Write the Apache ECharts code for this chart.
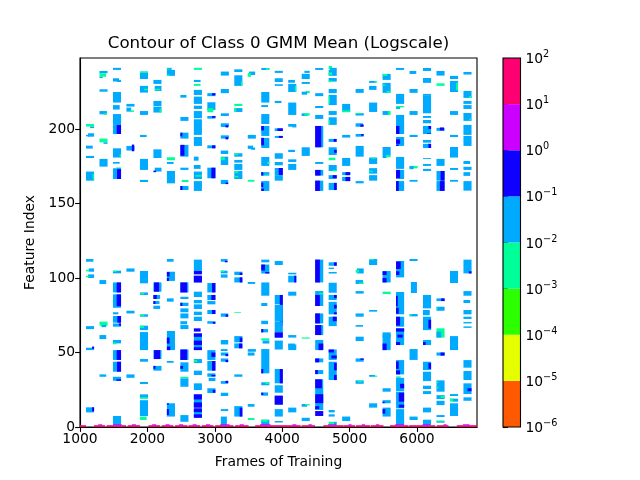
<!DOCTYPE html>
<html><head><meta charset="utf-8">
<script src="https://cdn.jsdelivr.net/npm/echarts@6/dist/echarts.min.js"></script>
<style>html,body{margin:0;padding:0;background:#fff}#c{width:640px;height:480px}</style>
</head><body><div id="c"></div>
<script>
const C=0.03,B=0.3,G=0.003;
const levelEdges=[1e-6,1e-5,1e-4,1e-3,1e-2,1e-1,1,10,100];
const levelColors=['#ff5a00','#e6ff00','#2bff00','#00ff99','#00aaff','#1000ff','#cc00ff','#ff0073'];
const xTicks=[1000,2000,3000,4000,5000,6000];
const yTicks=[0,50,100,150,200];
const columnStart=[1089,1289,1489,1689,1889,2089,2289,2489,2689,2889,3089,3289,3489,3689,3889,4089,4289,4489,4689,4889,5089,5289,5489,5689,5889,6089,6289,6489,6689];
const col00=[[203.3,201.6,G],[201.6,200.6,C,60,120],[197.1,194.8,C,30,120],[196,195,C,0,60],[188.8,186.8,C,0,100],[181.9,180.5,C,0,120],[171.4,165.3,C,0,120],[170,166,G,100,120],[112.7,110.9,C,0,110],[106.4,104.2,C,40,120],[105.5,104.5,G,0,50],[102.4,100,C,30,120],[101.5,100.5,G,0,50],[67.7,65.7,C,0,120],[53.2,51.6,C,0,120],[54,52.5,B,90,120],[13.2,9.8,C,0,120],[13.2,10.5,B,90,120]];
const col01=[[238.9,237.4,C],[237.4,235,G,0,100],[235,234.2,C,0,50],[226.6,225,C],[212,209.8,C,0,110],[210.5,209.5,G,60,110],[193.5,191,G],[191,190,C,60,120],[179.9,174.7,C],[98.6,95.9,C,0,100],[70.7,68,G],[68.5,67,C,30,100],[61.7,59,C,0,100],[35.3,33.7,C,0,100]];
const col02=[[241,239.6,C],[234,231.8,C,0,90],[232.8,231.5,C,60,120],[224.8,217.7,C],[216,213,C,0,100],[210,202.7,C],[202.7,196.6,C],[202.7,196.6,B,55,120],[187,180.8,C],[183,181,G,100,120],[177.8,176.7,C,0,100],[174.2,173,G,50,120],[173.6,166.4,C],[173,166.4,B,60,120],[104.9,103.1,C],[104.9,104,G,0,50],[97,90.3,C],[97,90.3,B,55,120],[89,80,C],[89,81,B,55,120],[77,75.6,C,0,80],[74.5,70,C],[74.5,70,B,65,120],[69.5,67.3,C,0,120],[69.5,68,B,90,120],[58.4,56.1,C],[56.8,55.5,G,0,50],[51.6,45,C],[51.6,45,B,55,120],[43.8,37.1,C],[43.8,37.1,B,60,120],[33.7,31,C],[32,31,B,50,120],[7.4,1.3,C]];
const col03=[[216.8,215,C],[214.3,211.6,C,0,70],[212.5,211.4,G,50,110],[188.6,185.5,C],[189.5,185,B,80,115],[106.4,104.2,C],[78,76.2,C],[35.3,33,C]];
const col04=[[238.5,233.5,C],[238.5,237.5,G],[228.9,224.4,C],[227,226,G,60,120],[212,209.4,C],[196,194.6,C,0,100],[179.9,172.5,C],[165.8,164.4,C,0,120],[104.7,96.4,C],[90.3,88.6,C],[90,89,G,0,60],[75.6,74,C,0,120],[75.6,74.5,G,0,60],[68,65,C],[68,66.5,G,0,60],[63.7,51.6,C],[45.6,43.8,C],[30.2,28.8,C],[21.9,19.2,C],[20,19,G],[18,7.4,C],[7,4.7,G,0,100]];
const col05=[[232.9,230.2,C],[228.9,225.5,C,20,120],[227,226,G,20,100],[218.8,215.4,C],[215,211,C],[213.5,211,G,90,120],[186.3,180.5,C],[174,171.4,C,20,120],[172,171,B,0,40],[97,90.8,C],[97,90.8,B,10,85],[88.6,85.9,C,0,100],[88.6,85.9,B,0,50],[84.5,82.5,C,0,90],[84.5,82.5,B,0,30],[81.4,79.2,C,0,100],[51.6,45.6,C],[51.6,45.6,B,10,100],[41,37.8,C,0,120],[41,39,B,0,30]];
const col06=[[241,239.6,C,0,70],[240.5,239.8,G,0,40],[239.6,235.6,C],[236.5,235.5,G,0,40],[181,179,G],[177.8,176.5,C,0,100],[171.8,163.5,C],[112.7,110.9,C,0,100],[104.2,98,C],[104,101,B,0,40],[100,98,B,0,30],[86.3,84.1,C,0,100],[64.4,51.6,C],[60,56,B,0,40],[54,51.6,B,0,50],[44.3,43.1,C,0,100],[15.9,7,C],[15.9,15,B,0,30],[12,8,B,0,30]];
const col07=[[222.8,221,C,0,90],[208,205.4,C,0,120],[197.5,193.5,C],[197.5,195,B,0,30],[189.3,181.4,C],[189.3,182,B,0,60],[174,172.5,C,0,120],[165.8,164.4,G,20,120],[161.7,159,C],[161.7,159,B,0,30],[97,90.3,C],[97,90.3,B,0,100],[87.4,85.9,C,0,120],[83.4,81.2,C],[83.4,81.2,B,0,30],[79.6,77,C],[76.2,72.9,C],[71,68.9,C,0,100],[68.4,65.7,C],[52,45,C],[52,45,B,0,100],[43.4,37.1,C],[41,39,B,0,40],[33.7,32.6,G],[32.6,27,C],[8,3.5,C]];
const col08=[[241,239.6,G],[232.9,231.5,C,0,100],[230.2,228.9,G,0,100],[226.2,222.8,C],[221.7,216.8,C],[215.6,213.4,C],[212,207.2,C],[206.5,196,C],[194.6,188.6,C],[181.4,178.7,C,0,70],[175.8,173.2,C,0,100],[171.4,166.4,C],[169,168,G,20,120],[165,158.4,C],[112.3,104.7,C],[104.7,102.4,B],[101.5,97,C],[101.5,97,B,0,120],[90.8,87.2,C],[85.2,83,C],[82.3,79.2,C],[77.4,75.1,C],[74,71.1,C],[66.2,64,B,0,100],[62.8,51.6,C],[62.8,60.5,B],[58,55,B],[53.5,51.6,B],[45.6,42.9,C],[45,43.5,G,0,50],[37.8,34.9,C],[29.3,24.8,C],[21.9,13,C],[21.9,18.5,B],[16.5,13,B],[12.5,6.2,C],[12.5,10,B],[8.5,6.2,B]];
const col09=[[224,222,C],[224,222.5,B,70,120],[217.9,212.7,C],[213.9,211.2,G,0,90],[208.7,206.9,C],[208.7,207.5,B,70,120],[189,187,C],[189,187,B,70,120],[174,166.9,C],[174,166.9,B,60,120],[96.6,90.3,C],[96.6,90.3,B,70,120],[88.6,85.2,C],[88.6,85.2,B,60,120],[84.5,82.3,C],[78.5,75.8,C],[78.5,75.8,B,70,120],[71,69.3,C],[70.5,69.3,B,80,120],[51.6,45,C],[50,47,B,60,120],[44.3,37.8,C],[44.3,37.8,B,70,120],[36,33.7,C],[35,34,B,60,120],[33,30.8,C,20,120],[26,22.8,C],[25,23,B,80,120]];
const col10=[[238.5,235.8,C],[226.8,224,C],[210.5,208.7,C],[203.8,201.3,C],[202.5,201,B,70,110],[195.7,193.5,C],[194.5,193,B,70,110],[185.5,183.2,C,0,110],[181.4,175.8,C,0,110],[181,179,G,0,60],[165.8,163,C,0,110],[164,163,B,70,110],[112.7,110.9,C,0,100],[111.5,110.5,B,60,100],[104.9,103.1,C,0,100],[105,104,G,0,50],[102.4,100.2,C,0,100],[76.2,74,C,0,110],[75.5,74,B,70,110],[58.4,55.4,C,0,110],[52.3,51,C,0,100],[50,47.9,C,0,110],[49,47.5,B,70,110],[46,43.8,C,0,110],[45,43.5,B,70,110],[30.8,29,C,0,110],[31,29.5,B,70,110],[23,20.8,C,0,110],[12,10.7,C,0,110],[7,1.3,C,0,90]];
const col11=[[240,238.2,C,0,120],[236,228.9,C],[232,229,G,100,120],[216.8,215.4,G,0,120],[214,211.4,C],[214,211.4,G,0,30],[183.7,181.4,C],[183.7,182.5,G,0,60],[179.2,177.4,C],[176.5,172.5,C],[171.8,166.4,C],[171.8,170.5,G,0,60],[168.5,167.5,G,0,60],[104.2,102,C],[103.5,102,B,80,120],[100.4,97,C],[100.4,97,B,80,120],[77,76.5,G,0,100],[61,56.8,C],[60,57,B,80,120],[56.1,52.8,C],[56,52.8,B,70,120],[35.3,33.7,C,0,120],[14,7,C],[13,7,B,80,120]];
const col12=[[238.5,236.2,C,20,110],[237.5,235,G,0,50],[196,193.5,C],[188.8,186.6,C,0,80],[187.5,186,C,50,110],[165.8,164.6,G,0,100],[97.3,96,C,0,110],[52.3,50.5,C],[50,47.9,C,0,100],[15.4,13.6,C,0,100],[6,4.7,G,0,100]];
const col13=[[240.9,239.6,C],[240.9,239.6,G,70,120],[224.8,217.7,C],[216,214.7,C,0,100],[210,203.3,C],[202,195.3,C],[202,199,B,0,40],[194,187.2,C],[194,189,B,0,40],[181.2,175.2,C],[178,176.5,G,90,120],[171,168.7,C],[171,168.7,B,0,30],[169.5,168.7,G,50,110],[165,158.4,C],[164,161,B,0,30],[160,158.4,B,0,40],[112.3,110.5,C],[109,103,C],[109,105,B,0,55],[104,103,B,60,120],[97,88.1,C],[83.2,81.2,C,0,90],[71.3,69,C,0,100],[65.7,63.5,C,0,100],[65.7,63.5,B,0,30],[59.5,58.1,G],[58,56,C,20,120],[52.3,38.9,C],[38.9,36,C],[38.9,36,B,0,30],[30,28,C],[30,28.8,G,60,120],[23.2,21,C,0,100],[23,21.5,B,0,30],[4.9,1.3,C],[4.9,3.5,G,0,100]];
const col14=[[239,237.6,C],[234,231.5,C],[230,228.9,C],[218.8,217.4,C,0,100],[200.4,198.6,C],[200.4,198.6,B,40,120],[195.3,194,C],[195.3,194,B,60,120],[183.7,180,C],[177.8,175.6,C],[173.8,169,C],[173.8,169,B,60,120],[169,165.3,C],[111.4,108.7,C],[88.6,82.3,C],[88.6,68,B,75,120],[81.9,70.7,C],[70.7,63.5,C],[63.5,60,C],[63.5,60,B],[58,52,C],[38.9,29.3,C],[38.9,29.3,B,75,120],[28,23,C],[21,15,C],[21,15,B,0,120],[12,7,C],[4,3,C]];
const col15=[[232.9,231,C,0,100],[230.2,224.8,C],[229,225,G,100,120],[217.7,209.4,C],[203.3,201.5,C],[202,201,C,60,120],[186,184.5,C,0,100],[179.6,177.8,C],[176.5,172.5,C],[103.5,102.4,C],[101.5,97,C],[101.5,97,B,90,120],[90.8,88.1,C],[61.7,60,C],[55.4,51.6,C],[56,54,C,0,100],[13,9.8,C]];
const col16=[[239,237.6,C,40,120],[237,233.5,C],[231.5,230.2,C],[225.5,224,G,60,120],[225,223,C,0,80],[210.5,208.7,C,0,90],[210.5,209,G,40,120],[187.7,181.9,C],[60.1,59.3,G],[15.4,13.6,C,0,80],[15.4,14.5,G,50,120],[6.2,4,C]];
const col17=[[240.9,239.6,C],[224,222,C],[215.4,214,C],[209.4,206.7,C],[202,187.7,C],[202,187.7,B,0,90],[177.8,176.5,C],[172.5,168.7,C],[172.5,168.7,B,0,80],[165.3,158.4,C],[165.3,158.4,B,0,70],[112.3,97,C],[112.3,97,B,0,70],[91.2,88.6,C],[90,89,G,60,120],[88.6,81.2,C],[88.6,81.2,B,0,70],[76.2,69.5,C],[76.2,69.5,B,0,70],[68.4,61.7,C],[68.4,61.7,B,0,90],[58.4,51.6,C],[56,51.6,B,50,120],[46,43.4,C],[46,43.4,B,0,60],[38.2,35.5,C],[38.2,35.5,B,0,40],[32,11.4,C],[32,26,B,0,100],[22,16,B,0,120],[14,12,B,0,60],[10.7,7.4,B,0,120]];
const col18=[[242.3,240,G,0,50],[241,239.6,C,20,120],[239.6,235.6,C],[238,236,G,0,50],[234.2,231.8,C],[232.5,231.5,G,0,60],[226.8,224,C],[222.8,216,C],[222,217,G,0,20],[212,209.4,C],[207.8,202.7,C],[206,203,G,0,20],[193.3,191.3,C,0,80],[193.3,191.3,B,75,120],[187.7,182.5,C],[186,184,B,80,120],[180.7,179,G,0,100],[175.8,171.8,C],[172.5,171.5,G,60,120],[169,166.4,C,0,120],[169,167,B,60,120],[163.8,159,C],[163.8,159,B,80,120],[110.5,108.2,C],[110.5,108.2,B,80,120],[106.9,106,C,0,80],[104,103,C],[96.8,90.1,C],[88.6,85.2,C],[88.6,86.5,B,80,120],[84,75.6,C],[82,79.5,B,80,120],[77,75.6,B,80,120],[74,67.7,C],[74,71,B,60,120],[52,45,C],[52,50,B,0,80],[48,46,B,40,120],[43.8,31.5,C],[43,38,B,80,120],[35,31.5,B,80,120],[11.4,9.8,C,0,90],[8.5,7,C,0,90],[3.5,1.3,G,0,80],[3.5,1.3,C,80,120]];
const col19=[[216.8,211.4,C],[212.5,211.2,G],[196,194.2,C,0,120],[180.5,175.2,C],[171,169,C],[171,169,B,50,120],[167.8,165,C],[167.8,165,B,50,120],[7,4,C]];
const col20=[[226.8,224.2,C],[210.7,209,C],[210.7,210,G,0,100],[203.8,201.5,C,0,110],[203,201.5,B,70,120],[196.6,194.8,C],[196.6,195.5,B,80,120],[188.6,181.4,C],[165,163.5,C],[106.4,103,C,20,120],[105.5,103.5,G,0,50],[98.6,96,C,0,110],[97,96,G,50,120],[91.2,89.5,C],[76.2,74,C],[68.4,67.3,C,0,110],[60.6,57.7,C],[46,43.8,C],[46,45,B,70,120],[31.3,29,C],[31,30,G,30,100]];
const col21=[[232.2,230.9,C,0,100],[232,231,G,80,120],[228.9,226.2,C,0,110],[217.7,211.4,C],[180.8,176.5,C],[180.8,180,G,30,100],[173.7,170,C],[172,171,G,0,50],[169,165.3,C],[112.7,108.7,C],[112.7,112,G,0,70],[78.5,77.4,C],[34.9,33.7,C,0,90],[34.5,33.7,G,70,120],[15.9,13,C]];
const col22=[[236.9,232.9,C],[236.9,235.5,G,0,70],[230.9,224.2,C],[230,229,G,0,40],[225.5,224.2,G,60,120],[212,209.4,C,0,100],[212,209.4,G,80,120],[187.9,182.5,C],[182.5,180.5,C,0,60],[182.5,181,G,50,120],[104.7,97,C],[104.5,102,B,0,60],[100,97,B,0,60],[90.8,89.2,G],[63.5,51.6,C],[62,60,C],[56,51.6,B,0,60],[26,23.7,C],[18,15.9,C],[17,16,B,0,30],[13,7,C],[12,9,B,0,40]];
const col23=[[240.9,239.6,C],[223.5,216.8,C],[215.4,213.4,C,0,60],[215.4,214.5,G,0,120],[209.4,196.6,C],[202,196.6,B,0,50],[194.6,188.6,C],[193,190,B,0,60],[189.5,188.6,B,0,40],[181.2,173.2,C],[172.5,166.4,C],[172.5,167,B,0,60],[165,158.4,C],[165,158.4,B,0,40],[111.4,100.4,C],[111,106,B,0,70],[104.5,102,B,0,50],[90.6,75.6,C],[88,81,B,0,25],[80,76,B,0,40],[74,67.3,C],[74,68,B,0,60],[66.2,55,C],[66.2,64,B],[62,60,B,20,100],[57,55,B,0,60],[44.9,35.3,C],[44,39,B,0,40],[38,35.3,B,0,60],[34,33,G,0,70],[33,24.1,C],[29,26,B,60,120],[23.7,12.5,C],[23,17,B,40,120],[15,13,B,40,120],[12,1.3,C]];
const col24=[[238.9,236.9,C,0,100],[226.8,224.2,C],[212,209.4,C],[196,194.6,C],[175.2,173.6,G,0,120],[175,173,C,0,60],[165.8,164.6,C],[112.7,111.4,C],[97.3,89.9,C,20,110],[75.8,74.2,C],[75.8,74.5,G,0,30],[52.3,45,C],[7,4.7,C]];
const col25=[[240.9,238.9,C],[234.2,230.9,C],[223.5,222.2,C],[222.2,210.5,C],[208.7,207.4,C],[206,203.8,C],[202,196.6,C],[202,200,B,80,120],[197,196.6,B,60,120],[192.6,190.8,C],[190,187.2,C],[190,187.2,B,80,120],[180.5,179.9,C],[176.5,175.2,C],[173.2,171.8,C],[88.6,79.6,C],[78.5,75,C,0,100],[74,65,C],[72,66,B,80,120],[58.4,55,C],[57,55,B,0,40],[43.8,38.2,C],[43,39,B,80,120],[37.1,30.8,C],[27.7,25.5,C],[24.1,22.1,C],[13,9.8,C],[4.9,1.3,C]];
const col26=[[238.9,235.8,C],[230.6,228.9,G],[200.7,198.7,C,0,120],[201,199,B,50,110],[179.9,175.2,C],[171.8,165.3,C],[171.8,165.3,B,60,120],[165,158.4,C],[165,158.4,B,50,120],[86.3,84.5,C],[86.3,84.5,B,70,120],[80.7,78,C],[80,79,G,0,20],[66.2,60,G],[64,60,C,0,70],[50,47.9,C,0,120],[50,47.9,B,60,120],[31.3,23.7,C],[30.5,29.5,G,0,30],[27,26,G,0,30],[21.4,18.8,C],[21,19.5,G,60,120],[17.6,14.7,C],[8,6.7,C],[4.2,2.9,C],[4.2,3.5,G,0,110]];
const col27=[[235.6,233.5,C],[232.2,224.8,C],[231,226,G,90,120],[212,209.4,C],[196,194.6,C],[187.9,180.8,C],[173.8,172.5,C],[165.8,164.6,C],[104.7,96.6,C],[61,51.6,C],[22.1,20.8,C],[19.2,17,G,0,60],[19,17,C,50,120],[15.9,7.4,C]];
const col28=[[238.2,236.5,C],[225.5,220.8,C],[222,220.8,G,80,120],[218.8,216.8,C],[216,213.4,C],[210.7,205.4,C],[207,206,G,90,120],[202.7,196,C],[195.3,188.6,C],[178.5,176.5,C,0,100],[174.6,172.5,C],[171,168.5,C,0,100],[165,158.6,C],[112.3,103.1,C],[104.5,103,B,80,120],[91.2,88.1,C],[85.2,83.2,C,0,100],[78.5,75.6,C],[74,72.5,C],[70.5,69.5,C],[67.5,66.5,C],[44.9,39.8,C],[37.6,31.5,C],[29.3,22.1,C],[26,24,B,60,120],[19.9,17.6,C]];
const columnRuns=[col00,col01,col02,col03,col04,col05,col06,col07,col08,col09,col10,col11,col12,col13,col14,col15,col16,col17,col18,col19,col20,col21,col22,col23,col24,col25,col26,col27,col28];
const baseCrimson=[[1000,1089],[1208,1371],[1396,1683],[1708,1891],[2015,2188],[2213,2386],[2411,2594],[2609,2782],[2807,2980],[3005,3277],[3302,3500],[3599,3970],[3967,4274],[4289,4487],[4610,4908],[4908,5081],[5096,5304],[5314,5502],[5600,5873],[5883,5997],[5997,6269],[6294,6467],[6590,6890]];
const baseMagenta=[[1270,1330],[1490,1620],[1770,1830],[2070,2130],[2270,2330],[2470,2530],[2670,2730],[2870,2930],[3080,3220],[3370,3430],[3670,3830],[4150,4210],[4388,4440],[4680,4800],[4982,5030],[5180,5230],[5392,5440],[5675,5808],[6080,6195],[6392,6440],[6680,6780]];
const xTicksMin=1000,xMax=6890,yMax=247.6;

function colorOf(v){for(let i=0;i<levelColors.length;i++){if(v<levelEdges[i+1])return levelColors[i];}return levelColors[7];}
const cells=[];
columnRuns.forEach((runs,i)=>{runs.forEach(r=>{const a=r.length>3?r[3]:0,b=r.length>3?r[4]:120;cells.push([columnStart[i]+a,columnStart[i]+b,r[1],r[0],r[2]]);});});
baseCrimson.forEach(s=>cells.push([s[0],s[1],0,1.2,30]));
baseMagenta.forEach(s=>cells.push([s[0],s[1],1,1.8,3]));
const barData=levelColors.map((c,i)=>[levelEdges[i],levelEdges[i+1],c]);
const sup={'-1':'−1','-2':'−2','-3':'−3','-4':'−4','-5':'−5','-6':'−6','0':'0','1':'1','2':'2'};
const font='"DejaVu Sans"';
const lineW=1.1,tickLen=4.9,tickPad=4.9,tickFs=13.89;
const chart=echarts.init(document.getElementById('c'),null,{renderer:'canvas',width:640,height:480});
chart.setOption({
  animation:false,backgroundColor:'#fff',
  title:{text:'Contour of Class 0 GMM Mean (Logscale)',left:273.5,top:30,textAlign:'center',textStyle:{fontFamily:font,fontSize:16.67,fontWeight:'normal',color:'#000'}},
  grid:[{left:80,top:58,width:397,height:369,show:true,borderColor:'#000',borderWidth:lineW,backgroundColor:'#fff',z:0},
        {left:503,top:58,width:17.5,height:369,show:false}],
  xAxis:[{type:'value',gridIndex:0,min:xTicksMin,max:xMax,interval:1000,name:'Frames of Training',nameLocation:'middle',nameGap:28,nameTextStyle:{fontFamily:font,fontSize:tickFs,color:'#000'},
          axisLine:{show:true,onZero:false,lineStyle:{color:'#000',width:lineW}},axisTick:{show:true,length:tickLen,customValues:xTicks,lineStyle:{color:'#000',width:lineW}},splitLine:{show:false},
          axisLabel:{customValues:xTicks,hideOverlap:false,margin:tickPad,fontFamily:font,fontSize:tickFs,color:'#000',formatter:v=>String(v)}},
         {type:'value',gridIndex:1,min:0,max:1,show:false}],
  yAxis:[{type:'value',gridIndex:0,min:0,max:yMax,interval:50,name:'Feature Index',nameLocation:'middle',nameGap:43,nameTextStyle:{fontFamily:font,fontSize:tickFs,color:'#000'},
          axisLine:{show:true,lineStyle:{color:'#000',width:lineW}},axisTick:{show:true,length:tickLen,customValues:yTicks,lineStyle:{color:'#000',width:lineW}},splitLine:{show:false},
          axisLabel:{customValues:yTicks,margin:tickPad,fontFamily:font,fontSize:tickFs,color:'#000'}},
         {type:'log',logBase:10,gridIndex:1,position:'right',min:1e-6,max:100,interval:1,
          axisLine:{show:false},axisTick:{show:true,length:tickLen,lineStyle:{color:'#000',width:lineW}},splitLine:{show:false},minorTick:{show:false},
          axisLabel:{show:true,margin:tickPad,showMinLabel:true,showMaxLabel:true,align:'left',
            formatter:v=>'{b|10}{s|'+sup[String(Math.round(Math.log10(v)))]+'}',
            rich:{b:{fontFamily:font,fontSize:tickFs,color:'#000',verticalAlign:'bottom',lineHeight:17},s:{fontFamily:font,fontSize:9.7,color:'#000',verticalAlign:'top',lineHeight:17}}}}],
  series:[
   {type:'custom',xAxisIndex:0,yAxisIndex:0,clip:true,silent:true,encode:{x:[0,1],y:[2,3]},data:cells,
    renderItem(p,api){const s=api.coord([api.value(0),api.value(2)]),e=api.coord([api.value(1),api.value(3)]);
      return {type:'rect',shape:echarts.graphic.clipRectByRect({x:s[0],y:e[1],width:e[0]-s[0],height:s[1]-e[1]},{x:p.coordSys.x,y:p.coordSys.y,width:p.coordSys.width,height:p.coordSys.height}),style:{fill:colorOf(api.value(4))}};}},
   {type:'custom',xAxisIndex:1,yAxisIndex:1,silent:true,encode:{y:[0,1]},data:barData,
    renderItem(p,api){const s=api.coord([0,api.value(0)]),e=api.coord([1,api.value(1)]);
      return {type:'rect',shape:{x:s[0],y:e[1],width:e[0]-s[0],height:s[1]-e[1]},style:{fill:barData[p.dataIndex][2]}};}}
  ],
  graphic:[{type:'rect',shape:{x:503,y:58,width:17.5,height:369},style:{fill:'none',stroke:'#000',lineWidth:lineW},z:100}]
});
</script></body></html>
